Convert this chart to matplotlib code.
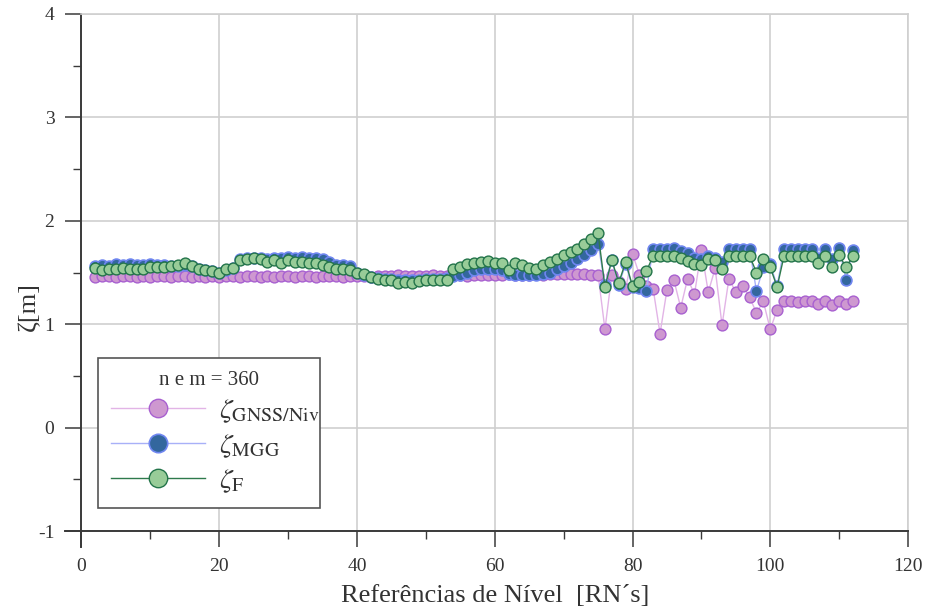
import numpy as np
import matplotlib
matplotlib.use("Agg")
import matplotlib.pyplot as plt
from matplotlib.lines import Line2D

plt.rcParams['font.family'] = ['Liberation Serif', 'DejaVu Serif']
plt.rcParams['mathtext.fontset'] = 'stix'
plt.rcParams['axes.unicode_minus'] = False

# Reference level indices
rn = np.arange(2, 113)

# Geoid height from GNSS/levelling
zeta_gnss = [
    1.46, 1.47, 1.47, 1.46, 1.47, 1.47, 1.46, 1.47, 1.46, 1.47, 1.47, 1.46, 1.47, 1.47, 1.46, 1.47, 1.46, 1.47, 1.46,
    1.47, 1.47, 1.46, 1.47, 1.47, 1.46, 1.47, 1.46, 1.47, 1.47, 1.46, 1.47, 1.47, 1.46, 1.47, 1.47, 1.47, 1.46, 1.47, 1.47,
    1.47, 1.46, 1.47, 1.47, 1.47, 1.48, 1.47, 1.47, 1.47, 1.47, 1.48, 1.47, 1.47, 1.48, 1.48, 1.47, 1.48, 1.48, 1.48, 1.48,
    1.48, 1.49, 1.48, 1.48, 1.48, 1.49, 1.48, 1.49, 1.49, 1.49, 1.49, 1.49, 1.49, 1.48, 1.48,
    0.95, 1.48, 1.41, 1.34, 1.68, 1.48, 1.37, 1.34, 0.91, 1.33, 1.43, 1.16, 1.44, 1.29, 1.72, 1.31, 1.54, 0.99,
    1.44, 1.31, 1.37, 1.26, 1.11, 1.22, 0.95, 1.14, 1.22, 1.22, 1.21, 1.22, 1.22, 1.20, 1.22, 1.19, 1.22, 1.20, 1.22,
]

# Geoid height from the global geopotential model
zeta_mgg = [
    1.56, 1.57, 1.56, 1.58, 1.57, 1.58, 1.57, 1.57, 1.58, 1.57, 1.57, 1.56, 1.56, 1.57,
    1.56, 1.53, 1.52, 1.51, 1.50, 1.52, 1.54,
    1.63, 1.64, 1.64, 1.64, 1.63, 1.64, 1.64, 1.65, 1.64, 1.65, 1.64, 1.64, 1.63, 1.60, 1.57, 1.57, 1.56,
    1.50, 1.48, 1.46, 1.45, 1.44, 1.44, 1.43, 1.43, 1.43, 1.43, 1.44, 1.44, 1.44, 1.45,
    1.47, 1.48, 1.50, 1.52, 1.53, 1.53, 1.53, 1.52, 1.49, 1.48, 1.48, 1.48, 1.48, 1.49, 1.50, 1.53, 1.56, 1.59,
    1.63, 1.67, 1.72, 1.78,
    1.38, 1.62, 1.38, 1.58, 1.36, 1.35, 1.32, 1.73, 1.73, 1.73, 1.74, 1.71, 1.69, 1.64, 1.63, 1.66, 1.64, 1.60,
    1.73, 1.73, 1.73, 1.73, 1.32, 1.55, 1.58, 1.37, 1.73, 1.73, 1.73, 1.73, 1.73, 1.64, 1.73, 1.63, 1.74, 1.43, 1.72,
]

# Fitted geoid height
zeta_f = [
    1.54, 1.52, 1.53, 1.53, 1.54, 1.53, 1.53, 1.53, 1.55, 1.55, 1.55, 1.56, 1.57, 1.59, 1.56, 1.53, 1.52, 1.51, 1.50,
    1.53, 1.54, 1.62, 1.63, 1.64, 1.63, 1.60, 1.62,
    1.59, 1.62, 1.60, 1.60, 1.59, 1.59, 1.57, 1.55, 1.53, 1.53, 1.52, 1.50, 1.49, 1.46, 1.44, 1.43, 1.43, 1.40,
    1.41, 1.40, 1.42, 1.43, 1.43, 1.43, 1.43, 1.53, 1.55, 1.58,
    1.59, 1.60, 1.61, 1.59, 1.59, 1.52, 1.59, 1.57, 1.54, 1.53, 1.57, 1.60, 1.63, 1.67, 1.70, 1.73, 1.78, 1.82, 1.88,
    1.36, 1.62, 1.40, 1.60, 1.37, 1.41, 1.51, 1.66, 1.66, 1.66, 1.66, 1.64, 1.61, 1.58, 1.57, 1.63, 1.62, 1.53,
    1.66, 1.66, 1.66, 1.66, 1.50, 1.63, 1.55, 1.36, 1.66, 1.66, 1.66, 1.66, 1.66, 1.59, 1.66, 1.55, 1.67, 1.55, 1.66,
]

legend_title = "n e m = 360"
labels = [r"$\zeta_{\mathrm{GNSS/Niv}}$", r"$\zeta_{\mathrm{MGG}}$", r"$\zeta_{\mathrm{F}}$"]

fig = plt.figure(figsize=(9.28, 6.14), dpi=100)
ax = fig.add_axes([81.5 / 928, 83 / 614, 826.5 / 928, 517 / 614])

ms = 7.8
ax.plot(rn, zeta_gnss, '-', color='#E2B4E6', lw=1.0, marker='o', ms=ms,
        mfc='#CE98D0', mec='#A860D0', mew=1.0, label=labels[0], zorder=3)
ax.plot(rn, zeta_mgg, '-', color='#A8B0F8', lw=1.0, marker='o', ms=ms,
        mfc='#33679E', mec='#6F86F0', mew=1.2, label=labels[1], zorder=4)
ax.plot(rn, zeta_f, '-', color='#2E7A4C', lw=1.0, marker='o', ms=ms,
        mfc='#98CC98', mec='#23744A', mew=1.0, label=labels[2], zorder=5)

ax.set_xlim(0, 120)
ax.set_ylim(-1, 4)
ax.set_xticks(np.arange(0, 121, 20))
ax.set_xticks(np.arange(0, 121, 10), minor=True)
ax.set_yticks(np.arange(-1, 5, 1))
ax.set_yticks(np.arange(-1, 4.01, 0.5), minor=True)

ax.grid(True, which='major', color='#CFCFCF', lw=1.2)
ax.set_axisbelow(True)

for s in ('top', 'right'):
    ax.spines[s].set_color('#CFCFCF')
    ax.spines[s].set_linewidth(1.2)
for s in ('left', 'bottom'):
    ax.spines[s].set_color('#3A3A3A')
    ax.spines[s].set_linewidth(1.4)

# spines continue past the corner by one tick length
ax.add_line(Line2D([0, 0], [-16 / 517, 0], transform=ax.transAxes, color='#3A3A3A',
                   lw=1.4, clip_on=False))
ax.add_line(Line2D([-16 / 826.5, 0], [0, 0], transform=ax.transAxes, color='#3A3A3A',
                   lw=1.4, clip_on=False))

ax.tick_params(which='major', direction='out', length=11.5, width=1.1, color='#3A3A3A',
               labelsize=14, labelcolor='#333333')
ax.tick_params(which='minor', direction='out', length=6, width=1.0, color='#3A3A3A')
ax.tick_params(axis='x', which='major', pad=8)
ax.tick_params(axis='y', which='major', pad=8)

ax.set_xlabel("Referências de Nível  [RN´s]", fontsize=19, color='#333333', labelpad=7)
ax.set_ylabel("ζ[m]", fontsize=19, color='#333333')
ax.yaxis.set_label_coords(-0.050, 0.435)

leg = ax.legend(loc='lower left', bbox_to_anchor=(0.02, 0.0445, 0.2686, 0.29), mode='expand',
                borderaxespad=0, title=legend_title, title_fontsize=15, fontsize=20.5,
                markerscale=1.7, handlelength=3.3, handletextpad=0.5, labelspacing=0.27,
                borderpad=0.45, fancybox=False, framealpha=1, edgecolor='#555555')
leg.get_frame().set_linewidth(1.2)
leg.get_title().set_color('#333333')
for t in leg.get_texts():
    t.set_color('#333333')

fig.savefig("out.png", dpi=100)
